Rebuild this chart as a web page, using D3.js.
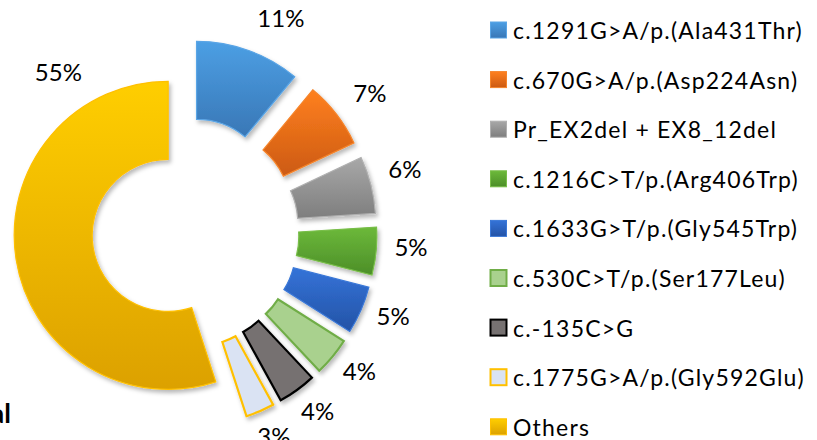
<!DOCTYPE html>
<html>
<head>
<meta charset="utf-8">
<script src="https://cdn.jsdelivr.net/npm/d3@7"></script>
<style>
  body { margin: 0; background: #fff; }
  svg { display: block; font-family: Lato, "Open Sans", sans-serif; }
</style>
</head>
<body>
<svg width="817" height="440"></svg>
<script>
// variant frequencies (%)
const labels = [
  'c.1291G>A/p.(Ala431Thr)',
  'c.670G>A/p.(Asp224Asn)',
  'Pr_EX2del + EX8_12del',
  'c.1216C>T/p.(Arg406Trp)',
  'c.1633G>T/p.(Gly545Trp)',
  'c.530C>T/p.(Ser177Leu)',
  'c.-135C>G',
  'c.1775G>A/p.(Gly592Glu)',
  'Others'
];
const values = [11, 7, 6, 5, 5, 4, 4, 3, 55];

// top / bottom gradient colour and outline for each slice
const topColors = ['#4c9fe4', '#ff801f', '#a8a8a8', '#6cb93a', '#3473d8', '#a9d18e', '#767171', '#dae3f3', '#ffce00'];
const botColors = ['#3977b6', '#cc5a12', '#7e7e7e', '#4c8e28', '#2453a6', '#a9d18e', '#767171', '#dae3f3', '#dca100'];
const strokes   = ['#5aa5e6', '#f5842a', '#b0b0b0', '#78be48', '#3a78d8', '#70ad47', '#000000', '#ffc000', '#ffc000'];

const svg = d3.select('svg');
const cx = 183, cy = 233;
const R = 154, r = 76;
const last = values.length - 1;

const defs = svg.append('defs');
const shadow = defs.append('filter').attr('id', 'shadow')
  .attr('x', '-20%').attr('y', '-20%').attr('width', '140%').attr('height', '140%');
shadow.append('feDropShadow')
  .attr('dx', 2).attr('dy', 3).attr('stdDeviation', 2)
  .attr('flood-color', '#000').attr('flood-opacity', 0.28);

labels.forEach((l, i) => {
  const g = defs.append('linearGradient').attr('id', 'grad' + i)
    .attr('x1', 0).attr('y1', 0).attr('x2', 0).attr('y2', 1);
  g.append('stop').attr('offset', '0%').attr('stop-color', topColors[i]);
  g.append('stop').attr('offset', '100%').attr('stop-color', botColors[i]);
});

const pie = d3.pie().sort(null).value(d => d)(values);
const arc = d3.arc().innerRadius(r).outerRadius(R);

// the big slice is pulled out less than the small ones
const explode = i => i === last ? 15 : 40;

const chart = svg.append('g').attr('transform', `translate(${cx},${cy})`);

chart.selectAll('path')
  .data(pie)
  .enter()
  .append('path')
  .attr('d', arc)
  .attr('transform', (d, i) => {
    const a = (d.startAngle + d.endAngle) / 2;
    const e = explode(i);
    return `translate(${e * Math.sin(a)},${-e * Math.cos(a)})`;
  })
  .attr('fill', (d, i) => `url(#grad${i})`)
  .attr('stroke', (d, i) => strokes[i])
  .attr('stroke-width', (d, i) => i >= 5 && i <= 7 ? 2.2 : 1.2)
  .attr('filter', 'url(#shadow)');

// percentage labels, placed round a point a little above the centre
const deg = Math.PI / 180;
const labelPos = (d, i) => {
  let a = (d.startAngle + d.endAngle) / 2, rr = 229;
  if (i === 0) a += 5.5 * deg;
  if (i === 1) a += 2.5 * deg;
  if (i === last) { a = d.endAngle - 39 * deg; rr = 198; }
  return [rr * Math.sin(a), -8 - rr * Math.cos(a)];
};

chart.selectAll('text.pct')
  .data(pie)
  .enter()
  .append('text')
  .attr('class', 'pct')
  .attr('x', (d, i) => labelPos(d, i)[0])
  .attr('y', (d, i) => labelPos(d, i)[1])
  .attr('text-anchor', 'middle')
  .attr('dominant-baseline', 'central')
  .attr('font-size', 24)
  .attr('fill', '#000')
  .text(d => d.data + '%');

// legend
const legend = svg.append('g').attr('transform', 'translate(490,30)');
const rows = legend.selectAll('g')
  .data(labels)
  .enter()
  .append('g')
  .attr('transform', (d, i) => `translate(0,${i * 49.6})`);

rows.append('rect')
  .attr('x', 0.5).attr('y', -8)
  .attr('width', 16).attr('height', 16)
  .attr('fill', (d, i) => `url(#grad${i})`)
  .attr('stroke', (d, i) => strokes[i])
  .attr('stroke-width', (d, i) => i >= 5 && i <= 7 ? 2 : 1);

rows.append('text')
  .attr('x', 23)
  .attr('y', 0)
  .attr('dominant-baseline', 'central')
  .attr('font-size', 23)
  .attr('letter-spacing', 1.2)
  .attr('fill', '#000')
  .text(d => d);

// cropped title at the bottom left
svg.append('text')
  .attr('x', 11).attr('y', 423)
  .attr('text-anchor', 'end')
  .attr('font-size', 27)
  .attr('font-weight', 'bold')
  .text('Total');
</script>
</body>
</html>
